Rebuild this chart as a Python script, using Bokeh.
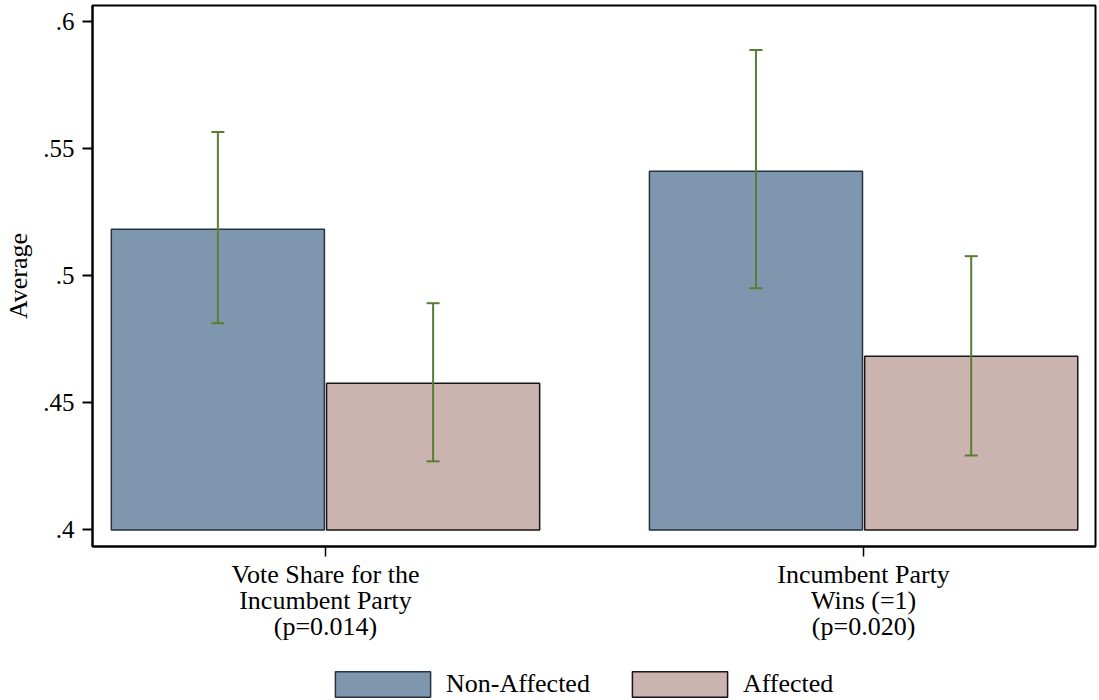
from bokeh.plotting import figure
from bokeh.layouts import column
from bokeh.models import (ColumnDataSource, Range1d, FixedTicker, Legend, LegendItem,
                          Whisker, TeeHead)
from bokeh.embed import file_html
from bokeh.resources import INLINE

# ---- data ----
categories = ["Vote Share for the\nIncumbent Party\n(p=0.014)",
              "Incumbent Party\nWins (=1)\n(p=0.020)"]
group_pos = [0, 1]
non_affected = [0.5183, 0.5411]
non_affected_lo = [0.4813, 0.4951]
non_affected_hi = [0.5565, 0.5888]
affected = [0.4577, 0.4683]
affected_lo = [0.4270, 0.4293]
affected_hi = [0.4892, 0.5077]
y_ticks = [0.4, 0.45, 0.5, 0.55, 0.6]
y_tick_labels = [".4", ".45", ".5", ".55", ".6"]
series_names = ["Non-Affected", "Affected"]

BASE = 0.4
OFF = 0.2
W = 0.396
FONT = "Liberation Serif"
GREEN = "#5b7d33"
C_NON, L_NON = "#7f97ae", "#26323f"
C_AFF, L_AFF = "#cbb3af", "#1a1414"

p = figure(width=1099, height=658, output_backend="svg", toolbar_location=None,
           x_range=Range1d(-0.433, 1.431), y_range=Range1d(0.3935, 0.6063),
           min_border_left=92, min_border_right=4, min_border_top=5, min_border_bottom=112)
p.grid.visible = False
p.background_fill_color = "white"
p.border_fill_color = "white"
p.outline_line_color = "black"
p.outline_line_width = 2

src_n = ColumnDataSource(dict(x=[g - OFF for g in group_pos], top=non_affected,
                              lo=non_affected_lo, hi=non_affected_hi))
src_a = ColumnDataSource(dict(x=[g + OFF for g in group_pos], top=affected,
                              lo=affected_lo, hi=affected_hi))

p.vbar(x="x", top="top", bottom=BASE, width=W, source=src_n,
       fill_color=C_NON, line_color=L_NON, line_width=1.5)
p.vbar(x="x", top="top", bottom=BASE, width=W, source=src_a,
       fill_color=C_AFF, line_color=L_AFF, line_width=1.5)

for src in (src_n, src_a):
    wk = Whisker(base="x", lower="lo", upper="hi", source=src, level="overlay",
                 line_color=GREEN, line_width=2,
                 upper_head=TeeHead(size=13, line_color=GREEN, line_width=2),
                 lower_head=TeeHead(size=13, line_color=GREEN, line_width=2))
    p.add_layout(wk)

# y axis
ya = p.yaxis[0]
ya.ticker = FixedTicker(ticks=y_ticks)
ya.major_label_overrides = {t: l for t, l in zip(y_ticks, y_tick_labels)}
ya.minor_tick_line_color = None
ya.major_tick_in = 0
ya.major_tick_out = 10
ya.major_tick_line_width = 2
ya.axis_line_width = 2
ya.major_label_orientation = "horizontal"
ya.major_label_text_font = FONT
ya.major_label_text_font_size = "25px"
ya.major_label_text_color = "black"
ya.major_label_standoff = 8
ya.axis_label = "Average"
ya.axis_label_text_font = FONT
ya.axis_label_text_font_size = "26px"
ya.axis_label_text_font_style = "normal"
ya.axis_label_text_color = "black"
ya.axis_label_standoff = 7

# x axis
xa = p.xaxis[0]
xa.ticker = FixedTicker(ticks=group_pos)
xa.major_label_overrides = {g: c for g, c in zip(group_pos, categories)}
xa.minor_tick_line_color = None
xa.major_tick_in = 0
xa.major_tick_out = 10
xa.major_tick_line_width = 1.5
xa.axis_line_width = 2
xa.major_label_text_font = FONT
xa.major_label_text_font_size = "26px"
xa.major_label_text_line_height = 0.9
xa.major_label_text_color = "black"
xa.major_label_standoff = 3

# ---- legend strip (separate figure below the plot) ----
q = figure(width=1099, height=42, output_backend="svg", toolbar_location=None,
           x_range=Range1d(0, 1), y_range=Range1d(0, 1),
           x_axis_location=None, y_axis_location=None, min_border=0)
q.grid.visible = False
q.outline_line_color = None
q.background_fill_color = "white"
q.border_fill_color = "white"
g_n = q.vbar(x="x", top="top", bottom=BASE, width=W, source=src_n, visible=False,
             fill_color=C_NON, line_color=L_NON, line_width=1.5)
g_a = q.vbar(x="x", top="top", bottom=BASE, width=W, source=src_a, visible=False,
             fill_color=C_AFF, line_color=L_AFF, line_width=1.5)

legend = Legend(items=[LegendItem(label=series_names[0], renderers=[g_n]),
                       LegendItem(label=series_names[1], renderers=[g_a])],
                orientation="horizontal", location=(231, 0),
                glyph_width=119, glyph_height=32, label_standoff=4, spacing=30,
                label_height=26, padding=0, margin=0, border_line_color=None,
                background_fill_alpha=0,
                label_text_font=FONT, label_text_font_size="26px", label_text_color="black")
q.add_layout(legend, "center")

layout = column(p, q, spacing=0)
open("out.html", "w").write(file_html(layout, INLINE))
